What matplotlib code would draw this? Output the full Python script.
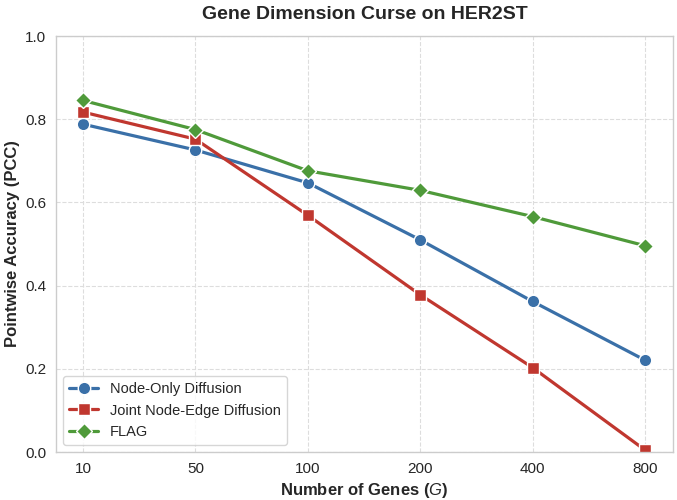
import numpy as np
import matplotlib.pyplot as plt
import seaborn as sns

genes = ["10", "50", "100", "200", "400", "800"]
node_only = [0.788, 0.726, 0.647, 0.510, 0.362, 0.221]
joint = [0.817, 0.752, 0.569, 0.378, 0.203, 0.005]
flag = [0.845, 0.775, 0.676, 0.629, 0.566, 0.496]

sns.set_style("whitegrid", {"grid.linestyle": "--", "grid.color": "#dddddd",
                            "axes.edgecolor": "#cccccc"})
plt.rcParams['font.family'] = ['Liberation Sans', 'DejaVu Sans']
plt.rcParams['mathtext.fontset'] = 'custom'
plt.rcParams['mathtext.it'] = 'Liberation Sans:italic'
plt.rcParams['mathtext.rm'] = 'Liberation Sans'

fig = plt.figure(figsize=(6.77, 5), dpi=100)
ax = fig.add_axes([0.083, 0.096, 0.911, 0.832])

x = np.arange(len(genes))
ax.plot(x, node_only, marker='o', color='#3a70a8', lw=2.3, ms=9,
        mec='white', mew=1, label='Node-Only Diffusion')
ax.plot(x, joint, marker='s', color='#c0372f', lw=2.3, ms=8.5,
        mec='white', mew=1, label='Joint Node-Edge Diffusion')
ax.plot(x, flag, marker='D', color='#4f9a3a', lw=2.3, ms=8.5,
        mec='white', mew=1, label='FLAG')

ax.set_xticks(x)
ax.set_xticklabels(genes)
ax.set_xlim(-0.24, 5.25)
ax.set_ylim(0, 1.0)
ax.set_yticks([0, 0.2, 0.4, 0.6, 0.8, 1.0])
ax.tick_params(labelsize=11)
ax.set_xlabel("Number of Genes ($G$)", fontsize=12, fontweight='bold')
ax.set_ylabel("Pointwise Accuracy (PCC)", fontsize=12, fontweight='bold')
ax.set_title("Gene Dimension Curse on HER2ST", fontsize=14, fontweight='bold', pad=12)
for s in ax.spines.values():
    s.set_linewidth(1)
ax.legend(loc='lower left', fontsize=10.5, frameon=True, edgecolor='#cccccc')

fig.savefig("out.png", dpi=100)
